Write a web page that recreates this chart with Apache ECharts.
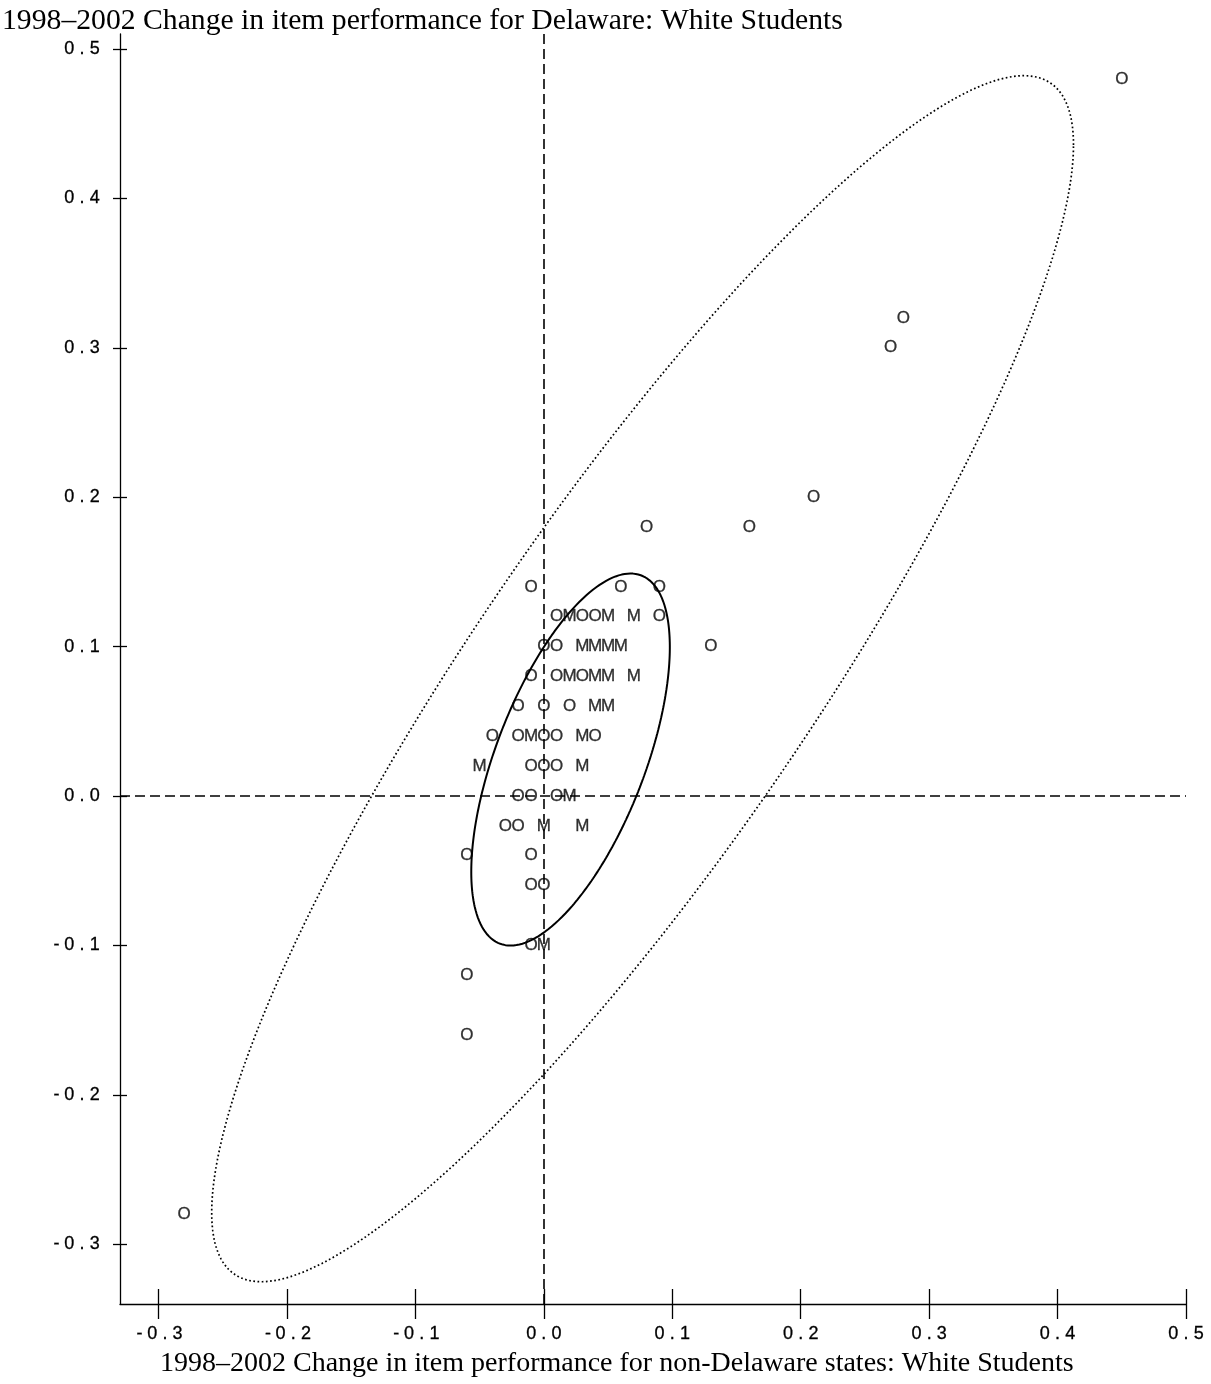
<!DOCTYPE html>
<html>
<head>
<meta charset="utf-8">
<script src="https://cdn.jsdelivr.net/npm/echarts@6/dist/echarts.min.js"></script>
<style>
  html, body { margin: 0; padding: 0; background: #fff; }
  #chart { width: 1211px; height: 1384px; }
</style>
</head>
<body>
<div id="chart"></div>
<script>
// Tick positions on both axes
const xTicks = [-0.3, -0.2, -0.1, 0.0, 0.1, 0.2, 0.3, 0.4, 0.5];
const yTicks = [-0.3, -0.2, -0.1, 0.0, 0.1, 0.2, 0.3, 0.4, 0.5];

// Items plotted with the "O" symbol: [non-Delaware change, Delaware change]
const oItems = [
  [-0.01, 0.14], [0.06, 0.14], [0.09, 0.14],
  [0.01, 0.12], [0.03, 0.12], [0.04, 0.12], [0.09, 0.12],
  [0.00, 0.10], [0.01, 0.10], [0.13, 0.10],
  [-0.01, 0.08], [0.01, 0.08], [0.03, 0.08],
  [-0.02, 0.06], [0.00, 0.06], [0.02, 0.06],
  [-0.04, 0.04], [-0.02, 0.04], [0.00, 0.04], [0.01, 0.04], [0.04, 0.04],
  [-0.01, 0.02], [0.00, 0.02], [0.01, 0.02],
  [-0.02, 0.00], [-0.01, 0.00], [0.01, 0.00],
  [-0.03, -0.02], [-0.02, -0.02],
  [-0.06, -0.04], [-0.01, -0.04],
  [-0.01, -0.06], [0.00, -0.06],
  [-0.01, -0.10],
  [-0.06, -0.12], [-0.06, -0.16], [-0.28, -0.28],
  [0.08, 0.18], [0.16, 0.18], [0.21, 0.20],
  [0.27, 0.30], [0.28, 0.32], [0.45, 0.48]
];

// Items plotted with the "M" symbol
const mItems = [
  [0.02, 0.12], [0.05, 0.12], [0.07, 0.12],
  [0.03, 0.10], [0.04, 0.10], [0.05, 0.10], [0.06, 0.10],
  [0.02, 0.08], [0.04, 0.08], [0.05, 0.08], [0.07, 0.08],
  [0.04, 0.06], [0.05, 0.06],
  [-0.01, 0.04], [0.03, 0.04],
  [-0.05, 0.02], [0.03, 0.02],
  [0.02, 0.00],
  [0.00, -0.02], [0.03, -0.02],
  [0.00, -0.10]
];

// Ellipses: [centre x, centre y, half-width x, half-height y, correlation]
const outerEllipse = [0.0769, 0.0785, 0.3355, 0.4036, 0.885];
const innerEllipse = [0.0208, 0.0244, 0.0773, 0.1245, 0.604];

const mainTitle = '1998\u20132002 Change in item performance for Delaware: White Students';
const xTitle = '1998\u20132002 Change in item performance for non-Delaware states: White Students';

const X_RANGE = [-0.33, 0.5];
const Y_RANGE = [-0.34, 0.51];

function ellipsePath(p) {
  const [cx, cy, sx, sy, r] = p;
  const k = Math.sqrt(1 - r * r);
  const pts = [];
  for (let i = 0; i <= 360; i++) {
    const t = i * Math.PI / 180;
    pts.push([cx + sx * Math.cos(t), cy + sy * (r * Math.cos(t) + k * Math.sin(t))]);
  }
  return pts;
}

// Tick labels are set on an even character pitch
function pitched(v) {
  return v.toFixed(1).split('').map(c => '{c|' + c + '}').join('');
}
const pitchRich = {
  c: {
    width: 12.7, align: 'center', fontSize: 18, fontFamily: 'Liberation Sans', color: '#000',
    lineHeight: 19, textBorderColor: '#000', textBorderWidth: 0.3
  }
};

const axisLineStyle = { color: '#000', width: 1.3 };
const sameRect = { left: 120, right: 25, top: 34, bottom: 80, containLabel: false };

function letterSeries(name, data, ch) {
  return {
    name: name,
    type: 'scatter',
    data: data,
    symbolSize: 1,
    itemStyle: { color: 'rgba(0,0,0,0)' },
    label: {
      show: true,
      position: 'inside',
      formatter: ch,
      color: '#000',
      fontSize: 17,
      fontFamily: 'Liberation Sans',
      textBorderColor: '#000',
      textBorderWidth: 0.3
    },
    emphasis: { disabled: true },
    z: 5
  };
}

const chart = echarts.init(document.getElementById('chart'), null, { renderer: 'canvas' });

chart.setOption({
  animation: false,
  backgroundColor: '#fff',
  title: [
    {
      text: mainTitle, left: 2, top: 6, padding: 0,
      textStyle: { fontFamily: 'Liberation Serif', fontSize: 29.7, fontWeight: 'normal', color: '#000' }
    },
    {
      text: xTitle, left: 160, top: 1350, padding: 0,
      textStyle: { fontFamily: 'Liberation Serif', fontSize: 28, fontWeight: 'normal', color: '#000' }
    }
  ],
  // second grid shares the plot rectangle and carries the inward half of each tick
  grid: [sameRect, sameRect],
  xAxis: [
    {
      type: 'value', gridIndex: 0, min: X_RANGE[0], max: X_RANGE[1], position: 'bottom',
      splitLine: { show: false },
      axisLine: { show: true, onZero: false, lineStyle: axisLineStyle },
      axisTick: { show: true, inside: false, length: 15, customValues: xTicks, lineStyle: axisLineStyle },
      axisLabel: { show: true, margin: 21, customValues: xTicks, formatter: pitched, rich: pitchRich }
    },
    {
      type: 'value', gridIndex: 1, min: X_RANGE[0], max: X_RANGE[1], position: 'bottom',
      splitLine: { show: false },
      axisLine: { show: false, onZero: false },
      axisTick: { show: true, inside: true, length: 15, customValues: xTicks, lineStyle: axisLineStyle },
      axisLabel: { show: false }
    }
  ],
  yAxis: [
    {
      type: 'value', gridIndex: 0, min: Y_RANGE[0], max: Y_RANGE[1], position: 'left',
      splitLine: { show: false },
      axisLine: { show: true, onZero: false, lineStyle: axisLineStyle },
      axisTick: { show: true, inside: false, length: 7, customValues: yTicks, lineStyle: axisLineStyle },
      axisLabel: { show: true, margin: 19, customValues: yTicks, formatter: pitched, rich: pitchRich }
    },
    {
      type: 'value', gridIndex: 1, min: Y_RANGE[0], max: Y_RANGE[1], position: 'left',
      splitLine: { show: false },
      axisLine: { show: false, onZero: false },
      axisTick: { show: true, inside: true, length: 7, customValues: yTicks, lineStyle: axisLineStyle },
      axisLabel: { show: false }
    }
  ],
  series: [
    {
      name: 'Outer ellipse',
      type: 'line',
      xAxisIndex: 0, yAxisIndex: 0,
      data: ellipsePath(outerEllipse),
      showSymbol: false,
      symbol: 'none',
      smooth: false,
      lineStyle: { color: '#000', width: 1.7, type: [1.7, 2.5] },
      emphasis: { disabled: true },
      markLine: {
        silent: true,
        symbol: 'none',
        label: { show: false },
        lineStyle: { color: '#000', width: 1.6, type: [10, 5] },
        data: [{ xAxis: 0 }, { yAxis: 0 }]
      },
      z: 2
    },
    {
      name: 'Inner ellipse',
      type: 'line',
      xAxisIndex: 0, yAxisIndex: 0,
      data: ellipsePath(innerEllipse),
      showSymbol: false,
      symbol: 'none',
      smooth: false,
      lineStyle: { color: '#000', width: 2 },
      emphasis: { disabled: true },
      z: 3
    },
    letterSeries('O', oItems, 'O'),
    letterSeries('M', mItems, 'M')
  ]
});
</script>
</body>
</html>
